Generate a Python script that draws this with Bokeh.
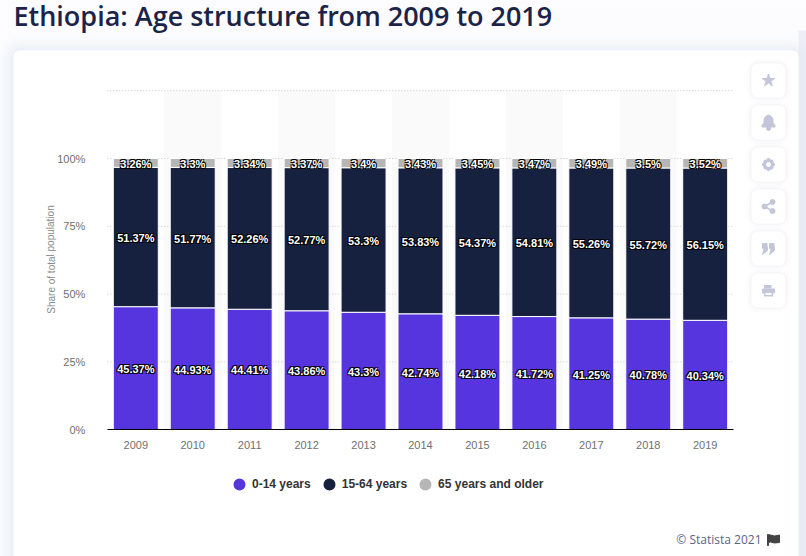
from bokeh.plotting import figure
from bokeh.models import Range1d, FixedTicker, ColumnDataSource, Legend, LegendItem
from bokeh.core.properties import value
from bokeh.embed import file_html
from bokeh.resources import INLINE

years = [2009, 2010, 2011, 2012, 2013, 2014, 2015, 2016, 2017, 2018, 2019]
young = [45.37, 44.93, 44.41, 43.86, 43.3, 42.74, 42.18, 41.72, 41.25, 40.78, 40.34]
working = [51.37, 51.77, 52.26, 52.77, 53.3, 53.83, 54.37, 54.81, 55.26, 55.72, 56.15]
older = [3.26, 3.3, 3.34, 3.37, 3.4, 3.43, 3.45, 3.47, 3.49, 3.5, 3.52]
series_names = ["0-14 years", "15-64 years", "65 years and older"]
series_colors = ["#5635df", "#16213f", "#b6b6b6"]
y_ticks = [0, 25, 50, 75, 100]
grid_levels = [25, 50, 75, 100, 125]
title_text = "Ethiopia: Age structure from 2009 to 2019"
y_title = "Share of total population"
credit = "© Statista 2021"

W, H = 806, 556
PX_X0, PX_PER_YEAR = 135.3, 56.94
PX_Y0, PX_PER_PCT = 429.2, 2.712

p = figure(width=W, height=H, output_backend="svg", toolbar_location=None,
           min_border=0, outline_line_color=None,
           x_range=Range1d(years[0] - PX_X0 / PX_PER_YEAR, years[0] + (W - PX_X0) / PX_PER_YEAR),
           y_range=Range1d((PX_Y0 - H) / PX_PER_PCT, PX_Y0 / PX_PER_PCT))
p.styles = {"position": "absolute", "left": "0", "top": "0"}
p.background_fill_color = "#fcfcfe"
p.border_fill_color = "#fcfcfe"
p.grid.visible = False
p.extra_x_ranges["px"] = Range1d(0, W)
p.extra_y_ranges["px"] = Range1d(H, 0)
PX = dict(x_range_name="px", y_range_name="px")


def box(l, r, t, b, color, alpha=1.0, radius=0):
    p.quad(left=[l], right=[r], top=[t], bottom=[b], fill_color=color, fill_alpha=alpha,
           line_color=None, border_radius=int(radius), **PX)


# page shadow + card
box(798, 806, 30, 556, "#eeeff6")
for g, a in [(14, .10), (10, .14), (6, .18), (3, .25)]:
    box(13 - g, 798 + g, 50 - g, 590, "#e6e7f2", a, 8 + g)
box(13, 798, 50, 600, "#ffffff", 1, 6)

# side buttons
icon_c = "#c2c6d8"
icon_y = [80, 122, 164, 206, 248, 290]
for cy in icon_y:
    for g, a in [(5, .08), (3, .12), (1.5, .2)]:
        box(751 - g, 785 + g, cy - 17 - g, cy + 17 + g, "#e4e5f0", a, 8 + g)
    box(751, 785, cy - 17, cy + 17, "#ffffff", 1, 6)
ix = 768
p.scatter([ix], [80], marker="star", size=13, fill_color=icon_c, line_color=icon_c, **PX)
p.patch([ix - 6.5, ix - 4.5, ix - 4.5, ix - 3, ix, ix + 3, ix + 4.5, ix + 4.5, ix + 6.5, ix + 6.5, ix - 6.5],
        [125, 122, 119, 116, 114.5, 116, 119, 122, 125, 126.5, 126.5], color=icon_c, **PX)
p.scatter([ix], [128], marker="circle", size=4, color=icon_c, **PX)
p.scatter([ix], [164], marker="circle", size=8, fill_color="#ffffff", line_color=icon_c, line_width=3.2, **PX)
p.scatter([ix], [164], marker="cross", size=13, line_color=icon_c, line_width=2.5, **PX)
p.scatter([ix], [164], marker="x", size=12, line_color=icon_c, line_width=2.5, **PX)
p.scatter([ix], [164], marker="circle", size=4, color="#ffffff", **PX)
p.multi_line([[ix + 4, ix - 4, ix + 4]], [[201.5, 206, 210.5]], line_color=icon_c, line_width=1.5, **PX)
p.scatter([ix + 4, ix - 4, ix + 4], [201.5, 206, 210.5], marker="circle", size=5, color=icon_c, **PX)
for qx in (ix - 3.5, ix + 3.5):
    box(qx - 3, qx + 2.5, 242.5, 248.5, icon_c, 1, 1)
    p.patch([qx - .5, qx + 2.5, qx + 2.5, qx - 2.5], [247, 247, 250, 254], color=icon_c, **PX)
box(ix - 6.5, ix + 6.5, 288, 293, icon_c, 1, 1)
box(ix - 4.5, ix + 3, 284.5, 288, icon_c, 1, 0)
box(ix - 4.5, ix + 4.5, 291, 296, icon_c, 1, 0)
box(ix - 3, ix + 3, 292.5, 294.5, "#ffffff", 1, 0)

# chrome text
p.text([13], [14.5], text=[title_text], text_font=value("Open Sans SemiBold"), text_font_size="27px",
       text_color="#1b2448", text_align="left", text_baseline="alphabetic", **PX)
p.text([50.5], [259], text=[y_title], text_font=value("Liberation Sans"), text_font_size="10px",
       text_color="#8a8a8a", angle=1.5708, text_align="center", text_baseline="middle", **PX)
p.text([761], [539], text=[credit], text_font=value("Open Sans"), text_font_size="12px",
       text_color="#5a6488", text_align="right", text_baseline="middle", **PX)
p.patch([767, 767, 770, 774, 779, 779, 774, 770, 768, 768],
        [545, 534, 534.5, 535.5, 534.5, 542, 542.5, 541.5, 542, 545], color="#444444", **PX)

# chart
xlo, xhi = years[0] - 0.5, years[-1] + 0.5
even = years[1::2]
p.vbar(x=even, top=[max(grid_levels)] * len(even), bottom=[0] * len(even), width=1.0,
       fill_color="#fafafa", line_color=None)
p.segment(x0=[xlo] * len(grid_levels), x1=[xhi] * len(grid_levels), y0=grid_levels, y1=grid_levels,
          line_color="#c4c4c4", line_width=1, line_dash="1 2")

src = ColumnDataSource(dict(x=years, young=young, working=working, older=older))
p.vbar_stack(["young", "working", "older"], x="x", width=0.79, source=src,
             fill_color=series_colors, line_color="#ffffff", line_width=1)

lab_x, lab_y, lab_t = [], [], []
for i, yr in enumerate(years):
    base = 0
    for arr in (young, working, older):
        lab_x.append(yr)
        lab_y.append(base + arr[i] / 2)
        lab_t.append(f"{arr[i]:g}%")
        base += arr[i]
label_style = dict(text_font=value("Liberation Sans"), text_font_size="11px", text_font_style="bold",
                   text_align="center", text_baseline="middle")
for dx, dy in [(-1, -1), (1, -1), (-1, 1), (1, 1)]:
    p.text(x=lab_x, y=lab_y, text=lab_t, text_color="#000000", x_offset=dx, y_offset=1 + dy, **label_style)
p.text(x=lab_x, y=lab_y, text=lab_t, text_color="#ffffff", y_offset=1, **label_style)

# axes
xa = p.xaxis[0]
xa.fixed_location = 0
xa.bounds = (xlo, xhi)
xa.ticker = FixedTicker(ticks=years)
xa.major_label_overrides = {y: str(y) for y in years}
xa.major_tick_line_color = None
xa.minor_tick_line_color = None
xa.axis_line_color = "#000000"
xa.axis_line_width = 1.2
xa.major_label_standoff = 5
xa.major_label_text_font = "Liberation Sans"
xa.major_label_text_font_size = "11px"
xa.major_label_text_color = "#707070"

ya = p.yaxis[0]
ya.fixed_location = xlo
ya.ticker = FixedTicker(ticks=y_ticks)
ya.major_label_overrides = {t: f"{t}%" for t in y_ticks}
ya.major_tick_line_color = None
ya.minor_tick_line_color = None
ya.axis_line_color = None
ya.major_label_standoff = 16
ya.major_label_text_font = "Liberation Sans"
ya.major_label_text_font_size = "11px"
ya.major_label_text_color = "#707070"

# legend
nan = float("nan")
items = []
for name, col in zip(series_names, series_colors):
    r = p.scatter(x=[nan], y=[nan], marker="circle", size=12, fill_color=col, line_color=col, line_width=1.6)
    items.append(LegendItem(label=name, renderers=[r]))
leg = Legend(items=items, orientation="horizontal", location=(226, 57), background_fill_alpha=0,
             border_line_color=None, glyph_width=26, glyph_height=30, label_standoff=0, spacing=5,
             padding=0, margin=0, label_text_font="Liberation Sans", label_text_font_size="12px",
             label_text_font_style="bold", label_text_color="#333333")
p.add_layout(leg, "center")

open("out.html", "w").write(file_html(p, INLINE))
